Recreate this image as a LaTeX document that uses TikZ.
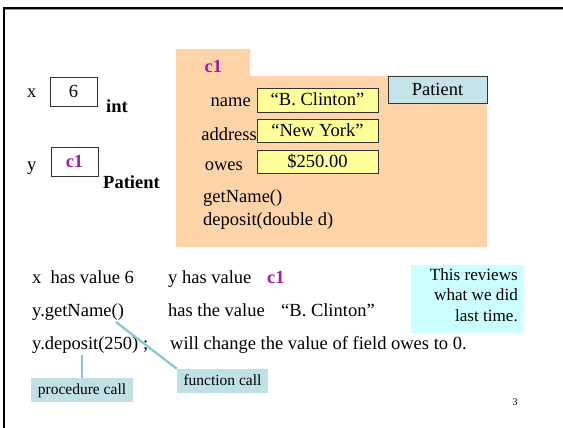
\documentclass[tikz,border=0pt]{standalone}
\usepackage{fontspec}
\setmainfont{Liberation Serif}
\definecolor{peach}{HTML}{FFD4A8}
\definecolor{fieldyellow}{HTML}{FFFF99}
\definecolor{classblue}{HTML}{C4E4E9}
\definecolor{callblue}{HTML}{BFE1E6}
\definecolor{callline}{HTML}{84C9D1}
\definecolor{notecyan}{HTML}{CCFFFF}
\definecolor{objpurple}{HTML}{9E1F9E}
\tikzset{
  big/.style={font=\fontsize{18.5}{21}\selectfont},
  txt/.style={big, inner sep=0pt, anchor=base west},
  txtr/.style={big, inner sep=0pt, anchor=base east},
  varbox/.style={big, draw=black!80, line width=0.8pt, fill=white, inner sep=0pt, text height=12pt, text depth=0pt},
  fieldbox/.style={big, draw=black!80, line width=0.8pt, fill=fieldyellow, inner sep=0pt, minimum width=121pt, text height=12pt, text depth=0pt},
  callbox/.style={font=\fontsize{15.5}{18}\selectfont, fill=callblue, inner sep=0pt, text height=11pt, text depth=3pt},
  callconn/.style={draw=callline, line width=2.2pt},
  objname/.style={text=objpurple, font=\fontsize{18.5}{21}\selectfont\bfseries}
}
\begin{document}
\begin{tikzpicture}[x=1pt,y=-1pt]
\useasboundingbox (0,0) rectangle (563,428);
% frame
\draw[black!40, line width=1pt] (5,10) -- (563,10);
\draw[line width=2.4pt] (4,428) -- (4,8) -- (563,8);

% variables
\node[txt] (xlab) at (27,98) {x};
\node[varbox, minimum width=47pt, minimum height=29pt] (xbox) at (73.5,91.5) {6};
\node[txt, font=\fontsize{18.5}{21}\selectfont\bfseries] (xtype) at (106,113) {int};
\node[txt] (ylab) at (27,170) {y};
\node[varbox, minimum width=47pt, minimum height=29pt, objname] (ybox) at (74.5,161.5) {c1};
\node[txt, font=\fontsize{18.5}{21}\selectfont\bfseries] (ytype) at (103,188) {Patient};

% object
\fill[peach] (176,49) -- (250,49) -- (250,76) -- (487,76) -- (487,247) -- (176,247) -- cycle;
\node[txt, objname] (objtab) at (204.5,73) {c1};
\node[big, draw=black!80, line width=0.8pt, fill=classblue, minimum width=99pt, minimum height=27pt, inner sep=0pt, text height=12pt, text depth=0pt] (cls) at (437.5,89.5) {Patient};
\node[txtr] (namelab) at (251,106.5) {name};
\node[fieldbox, minimum height=24pt] (namebox) at (317.5,100) {“B. Clinton”};
\node[txtr] (addrlab) at (257,140) {address};
\node[fieldbox, minimum height=23pt] (addrbox) at (317.5,130.5) {“New York”};
\node[txtr] (oweslab) at (243,170) {owes};
\node[fieldbox, minimum height=23pt] (owesbox) at (317.5,161.5) {\$250.00};
\node[txt] (m1) at (203,202) {getName()};
\node[txt] (m2) at (203,225) {deposit(double d)};

% statements
\node[txt] (s1) at (32,283) {x\ \ has value 6};
\node[txt] (s2) at (168,283) {y has value};
\node[txt, objname] (s3) at (267,283) {c1};
\node[txt] (getname) at (32,316) {y.getName()};
\node[txt] (s5) at (168,316) {has the value};
\node[txt] (s6) at (281,316) {“B. Clinton”};
\node[txt] (deposit) at (32,349) {y.deposit(250) ;};
\node[txt] (s8) at (170,349) {will change the value of field owes to 0.};

% note
\node[fill=notecyan, minimum width=113pt, minimum height=68pt, inner sep=0pt] (notebox) at (467.5,299) {};
\node[font=\fontsize{17.1}{20.5}\selectfont, align=right, inner sep=0pt, anchor=north east] (note) at (518,268) {This reviews\\what we did\\last time.};

% call labels
\node[callbox, minimum width=91pt, minimum height=24pt] (fcbox) at (222.5,381) {function call};
\node[callbox, minimum width=102pt, minimum height=24pt] (pcbox) at (82,390) {procedure call};
\coordinate (fcstart) at (116,322);
\coordinate (pcstart) at (82,355);
\draw[callconn] (fcstart) -- (fcbox.north west);
\draw[callconn] (pcstart) -- (pcbox.north);

% page number
\node[font=\fontsize{10}{12}\selectfont, inner sep=0pt] (pagenum) at (515,402) {3};
\end{tikzpicture}
\end{document}
